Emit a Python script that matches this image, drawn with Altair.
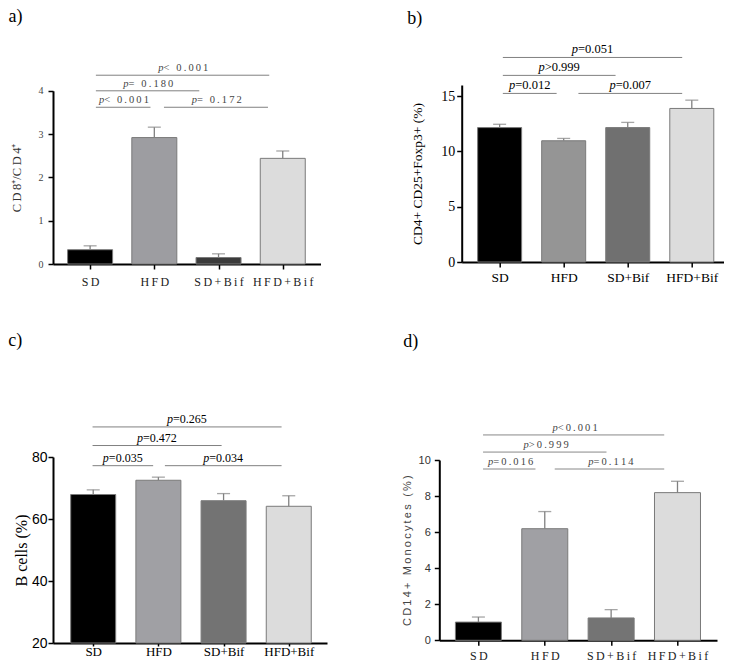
import json
import altair as alt
import pandas as pd

GROUPS = ["SD", "HFD", "SD+Bif", "HFD+Bif"]

# ---- panel a) CD8+/CD4+ ----
A_MEAN = [0.33, 2.92, 0.15, 2.44]
A_SEM = [0.09, 0.24, 0.085, 0.17]
A_COLORS = ["#000000", "#9d9da1", "#3b3b3b", "#dcdcdc"]
A_BR_FROM = [0.09, 0.09, 0.09, 1.15]
A_BR_TO = [2.79, 1.70, 0.94, 2.77]
A_BR_Y = [4.36, 4.0, 3.62, 3.62]
A_BR_TEXT = ["< 0.001", "= 0.180", "< 0.001", "= 0.172"]

# ---- panel b) Treg ----
B_MEAN = [12.15, 10.96, 12.15, 13.88]
B_SEM = [0.30, 0.21, 0.47, 0.75]
B_COLORS = ["#000000", "#959595", "#707070", "#dcdcdc"]
B_BR_FROM = [0.05, 0.05, 0.05, 1.23]
B_BR_TO = [2.85, 1.81, 0.89, 2.85]
B_BR_Y = [18.49, 16.87, 15.24, 15.24]
B_BR_TEXT = ["=0.051", ">0.999", "=0.012", "=0.007"]

# ---- panel c) B cells ----
C_MEAN = [67.9, 72.5, 65.9, 64.1]
C_SEM = [1.5, 1.0, 2.3, 3.4]
C_COLORS = ["#000000", "#a0a0a4", "#737373", "#dcdcdc"]
C_BR_FROM = [-0.01, -0.01, -0.01, 1.10]
C_BR_TO = [2.89, 1.97, 0.92, 2.89]
C_BR_Y = [89.7, 83.7, 77.2, 77.2]
C_BR_TEXT = ["=0.265", "=0.472", "=0.035", "=0.034"]

# ---- panel d) CD14+ monocytes ----
D_MEAN = [1.01, 6.19, 1.24, 8.19]
D_SEM = [0.28, 0.95, 0.46, 0.63]
D_COLORS = ["#000000", "#a0a0a4", "#747474", "#dcdcdc"]
D_BR_FROM = [0.07, 0.07, 0.07, 1.15]
D_BR_TO = [2.80, 1.93, 0.86, 2.80]
D_BR_Y = [11.39, 10.44, 9.5, 9.5]
D_BR_TEXT = ["<0.001", ">0.999", "=0.016", "=0.114"]

THIN = "\u2009"
SERIF = "Liberation Serif"
SANS = "Liberation Sans"


def plain(s):
    return s


def spaced(s):
    return THIN.join(list(s))


def panel(means, sems, colors, bfrom, bto, by, btext, cfg):
    df = pd.DataFrame({
        "i": list(range(len(GROUPS))),
        "group": GROUPS,
        "mean": means,
        "upper": [m + s for m, s in zip(means, sems)],
        "fill": colors,
    })
    br = pd.DataFrame({"x1": bfrom, "x2": bto, "y": by,
                       "rest": [cfg["pfmt"](t) for t in btext]})
    br["mid"] = (br["x1"] + br["x2"]) / 2
    br["p"] = "p"

    labels = [cfg["xfmt"](g) for g in GROUPS]
    label_expr = json.dumps(labels) + "[datum.value]"

    xscale = alt.Scale(domain=cfg["xdom"], nice=False, zero=False)
    ykw = dict(domain=cfg["ydom"], nice=False, zero=False)
    if "yrange" in cfg:
        ykw["range"] = cfg["yrange"]
    yscale = alt.Scale(**ykw)

    xaxis = alt.Axis(values=[0, 1, 2, 3], tickCount=4, labelExpr=label_expr, title=None,
                     grid=False, domainColor="black", domainWidth=2,
                     tickColor="black", tickWidth=1.5, tickSize=cfg["xtick"],
                     labelFont=cfg["xfont"], labelFontSize=cfg["xsize"],
                     labelColor=cfg["xcolor"], labelPadding=cfg["xpad"],
                     labelAngle=0, labelFlush=False, labelOverlap=False)
    yaxis = alt.Axis(values=cfg["yvalues"], tickCount=len(cfg["yvalues"]),
                     title=cfg["ytitle"], grid=False,
                     domainColor="black", domainWidth=2, tickColor="black",
                     tickWidth=1.5, tickSize=5,
                     labelFont=cfg["yfont"], labelFontSize=cfg["ysize"],
                     labelColor=cfg["ycolor"], labelPadding=cfg["ypad"],
                     labelFlush=False, labelOverlap=False,
                     titleFont=cfg["tfont"], titleFontSize=cfg["tsize"],
                     titleFontWeight="normal", titleColor=cfg["tcolor"],
                     titlePadding=cfg["tpad"])

    base = alt.Chart(df)
    bars = base.mark_bar(size=cfg["bw"], stroke="#7a7a7a", strokeWidth=1).encode(
        x=alt.X("i:Q", scale=xscale, axis=xaxis),
        y=alt.Y("mean:Q", scale=yscale, axis=yaxis),
        y2=alt.datum(cfg["ydom"][0]),
        fill=alt.Fill("fill:N", scale=None),
    )
    err = base.mark_rule(color="#808080", strokeWidth=1.3).encode(
        x="i:Q", y="mean:Q", y2="upper:Q")
    cap = base.mark_tick(orient="horizontal", size=13, thickness=1.3,
                         color="#808080").encode(x="i:Q", y="upper:Q")

    bb = alt.Chart(br)
    lines = bb.mark_rule(color=cfg["lcolor"], strokeWidth=1).encode(
        x="x1:Q", x2="x2:Q", y="y:Q")
    ptxt = bb.mark_text(align="right", baseline="alphabetic", dx=-cfg["k"],
                        dy=-4, font=cfg["pfont"], fontSize=cfg["psize"],
                        fontStyle="italic", color=cfg["pcolor"]).encode(
        x="mid:Q", y="y:Q", text="p:N")
    rtxt = bb.mark_text(align="left", baseline="alphabetic", dx=-cfg["k"],
                        dy=-4, font=cfg["pfont"], fontSize=cfg["psize"],
                        color=cfg["pcolor"]).encode(
        x="mid:Q", y="y:Q", text="rest:N")

    return alt.layer(bars, err, cap, lines, ptxt, rtxt).properties(
        width=cfg["w"], height=cfg["h"],
        title=alt.TitleParams(text=cfg["label"], anchor="start", frame="group",
                              font=SERIF, fontSize=18, fontWeight="normal",
                              color="black", dx=cfg["tdx"], offset=cfg["toff"]),
    )


A = panel(A_MEAN, A_SEM, A_COLORS, A_BR_FROM, A_BR_TO, A_BR_Y, A_BR_TEXT, dict(
    label="a)", tdx=-44.5, toff=37,
    w=267.5, h=179, xdom=[-0.5, 3.51], ydom=[0, 4], yrange=[179, 5.8],
    yvalues=[0, 1, 2, 3, 4], bw=45,
    xfmt=spaced, xfont=SERIF, xsize=12, xcolor="#222222", xpad=7, xtick=5,
    yfont=SERIF, ysize=10, ycolor="#444444", ypad=5,
    ytitle="C" + THIN + "D" + THIN + "8\u207a/C" + THIN + "D" + THIN + "4\u207a",
    tfont=SERIF, tsize=12.5, tcolor="#333333", tpad=15,
    pfmt=spaced, pfont=SERIF, psize=10.5, pcolor="#444444", k=19,
    lcolor="#808080"))

B = panel(B_MEAN, B_SEM, B_COLORS, B_BR_FROM, B_BR_TO, B_BR_Y, B_BR_TEXT, dict(
    label="b)", tdx=-54.5, toff=15,
    w=262, h=177, xdom=[-0.514, 3.42], ydom=[0, 16],
    yvalues=[0, 5, 10, 15], bw=44,
    xfmt=plain, xfont=SERIF, xsize=13.5, xcolor="black", xpad=3, xtick=5,
    yfont=SERIF, ysize=14, ycolor="black", ypad=2,
    ytitle="CD4+ CD25+Foxp3+  (%)",
    tfont=SERIF, tsize=13.5, tcolor="black", tpad=16,
    pfmt=plain, pfont=SERIF, psize=12.5, pcolor="black", k=14.5,
    lcolor="#808080"))

C = panel(C_MEAN, C_SEM, C_COLORS, C_BR_FROM, C_BR_TO, C_BR_Y, C_BR_TEXT, dict(
    label="c)", tdx=-44.7, toff=62.7,
    w=274, h=186, xdom=[-0.54, 3.51], ydom=[20, 80],
    yvalues=[20, 40, 60, 80], bw=45,
    xfmt=plain, xfont=SERIF, xsize=13, xcolor="black", xpad=-1, xtick=3,
    yfont=SANS, ysize=14, ycolor="black", ypad=1,
    ytitle="B cells (%)",
    tfont=SERIF, tsize=16, tcolor="black", tpad=2,
    pfmt=plain, pfont=SERIF, psize=12, pcolor="black", k=14,
    lcolor="#808080"))

D = panel(D_MEAN, D_SEM, D_COLORS, D_BR_FROM, D_BR_TO, D_BR_Y, D_BR_TEXT, dict(
    label="d)", tdx=-36, toff=72,
    w=277.7, h=183.3, xdom=[-0.514, 3.52], ydom=[0, 10], yrange=[183.3, 3],
    yvalues=[0, 2, 4, 6, 8, 10], bw=46,
    xfmt=spaced, xfont=SERIF, xsize=12, xcolor="#222222", xpad=5, xtick=5,
    yfont=SANS, ysize=11, ycolor="#333333", ypad=4,
    ytitle=spaced("CD14+ Monocytes (%)"),
    tfont=SANS, tsize=11, tcolor="#444444", tpad=6,
    pfmt=spaced, pfont=SERIF, psize=10.5, pcolor="#444444", k=16,
    lcolor="#888888"))

row1 = alt.hconcat(A, B, spacing=140.7, bounds="flush")
row2 = alt.hconcat(C, D, spacing=112.3, bounds="flush")
chart = alt.vconcat(row1, row2, spacing=45).properties(padding=0).configure_view(stroke=None)

chart.save("out.html", embed_options={"renderer": "svg", "actions": False})
